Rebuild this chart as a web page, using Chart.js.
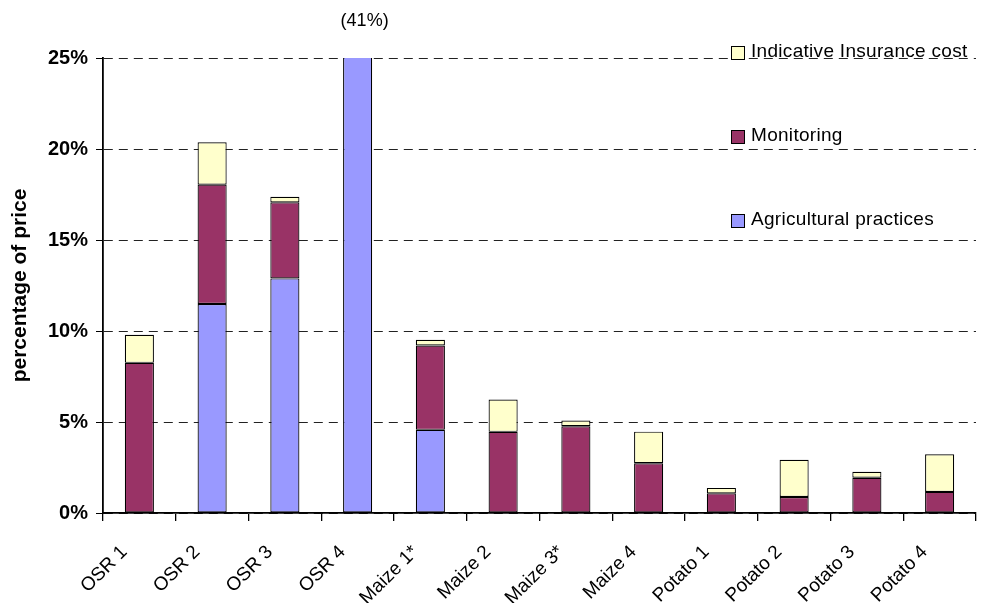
<!DOCTYPE html>
<html>
<head>
<meta charset="utf-8">
<script src="https://cdn.jsdelivr.net/npm/chart.js@4/dist/chart.umd.min.js"></script>
<style>
  body { margin: 0; background: #fff; }
  #wrap { position: relative; width: 992px; height: 603px; }
  #legend { position: absolute; left: 731px; top: 40px; font-family: "Liberation Sans", Arial, sans-serif; font-size: 19px; letter-spacing: 0.3px; color: #000; }
  #legend div { height: 84px; display: flex; align-items: flex-start; }
  #legend span.box { display: inline-block; width: 12px; height: 12px; border: 1px solid #000; margin: 6px 6px 0 0; flex: none; }
</style>
</head>
<body>
<div id="wrap">
  <canvas id="myChart" width="992" height="603"></canvas>
  <div id="legend"></div>
</div>
<script>
const categories = ["OSR 1", "OSR 2", "OSR 3", "OSR 4", "Maize 1*", "Maize 2", "Maize 3*", "Maize 4", "Potato 1", "Potato 2", "Potato 3", "Potato 4"];
const agricultural = [0, 11.48, 12.89, 41, 4.57, 0, 0, 0, 0, 0, 0, 0];
const monitoring = [8.25, 6.56, 4.18, 0, 4.63, 4.46, 4.77, 2.73, 1.08, 0.88, 1.94, 1.16];
const insurance = [1.54, 2.33, 0.31, 0, 0.32, 1.77, 0.31, 1.74, 0.3, 2.04, 0.32, 2.07];
const yTicks = [0, 5, 10, 15, 20, 25];

const fontFamily = "'Liberation Sans', Arial, sans-serif";

// value of the bar that runs off the top of the axis
const overflowLabel = {
  id: "overflowLabel",
  afterDraw(chart) {
    const bar = chart.getDatasetMeta(0).data[3];
    const ctx = chart.ctx;
    ctx.save();
    ctx.font = "18px " + fontFamily;
    ctx.fillStyle = "#000";
    ctx.textAlign = "center";
    ctx.textBaseline = "middle";
    ctx.fillText("(" + agricultural[3] + "%)", bar.x + 7, 21);
    ctx.restore();
  }
};

function drawChart() {
  const ctx = document.getElementById("myChart").getContext("2d");
  window.myChartInstance = new Chart(ctx, {
    type: "bar",
    data: {
      labels: categories,
      datasets: [
        { label: "Agricultural practices", data: agricultural, backgroundColor: "#9999FF", borderColor: "#000", borderWidth: 1.2, borderSkipped: false },
        { label: "Monitoring", data: monitoring, backgroundColor: "#993366", borderColor: "#000", borderWidth: 1.2, borderSkipped: false },
        { label: "Indicative Insurance cost", data: insurance, backgroundColor: "#FFFFCC", borderColor: "#000", borderWidth: 1.2, borderSkipped: false }
      ]
    },
    options: {
      responsive: false,
      animation: false,
      maintainAspectRatio: false,
      categoryPercentage: 1,
      barPercentage: 0.4,
      layout: { padding: { top: 58, right: 16, left: 0, bottom: 0 } },
      plugins: { legend: { display: false }, tooltip: { enabled: false } },
      scales: {
        x: {
          stacked: true,
          afterFit(scale) { scale.height = 90; },
          grid: { offset: true, drawOnChartArea: false, color: "#000", tickLength: 8, lineWidth: 1.3 },
          border: { color: "#000", width: 1.8 },
          ticks: { color: "#000", font: { family: fontFamily, size: 19 }, maxRotation: 45, minRotation: 45, padding: 20, labelOffset: -15 }
        },
        y: {
          stacked: true,
          min: 0,
          max: 25,
          afterFit(scale) { scale.width = 103; },
          afterBuildTicks(axis) { axis.ticks = yTicks.map(v => ({ value: v })); },
          grid: { color: "#222", tickColor: "#000", tickLength: 7, lineWidth: 1 },
          border: { color: "#000", width: 1.8, dash: [9, 6] },
          ticks: { color: "#000", font: { family: fontFamily, size: 20, weight: "bold" }, padding: 8, callback: v => v + "%" },
          title: { display: true, text: "percentage of price", color: "#000", font: { family: fontFamily, size: 21, weight: "bold" }, padding: { top: 8, bottom: 0 } }
        }
      }
    },
    plugins: [overflowLabel]
  });

  const legend = document.getElementById("legend");
  window.myChartInstance.data.datasets.slice().reverse().forEach(ds => {
    const row = document.createElement("div");
    row.innerHTML = '<span class="box" style="background:' + ds.backgroundColor + '"></span>' + ds.label;
    legend.appendChild(row);
  });
}

drawChart();
</script>
</body>
</html>
